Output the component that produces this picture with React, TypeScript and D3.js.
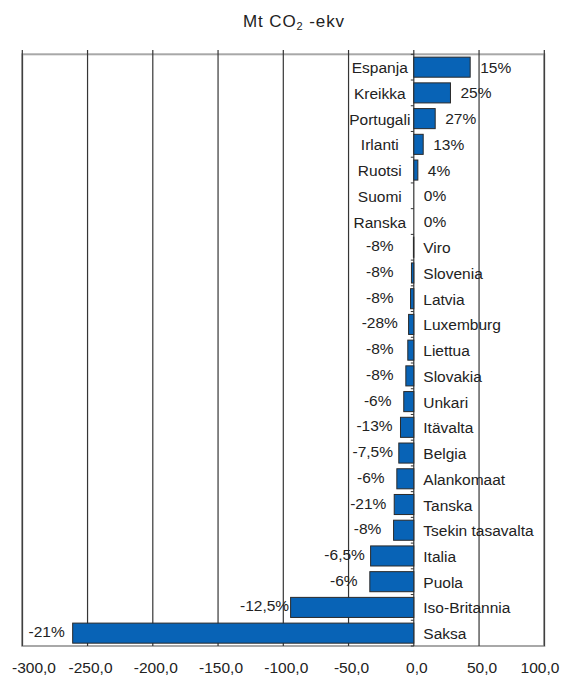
import React from "react";
import * as d3 from "d3";

const categories = ["Espanja","Kreikka","Portugali","Irlanti","Ruotsi","Suomi","Ranska","Viro","Slovenia","Latvia","Luxemburg","Liettua","Slovakia","Unkari","Itävalta","Belgia","Alankomaat","Tanska","Tsekin tasavalta","Italia","Puola","Iso-Britannia","Saksa"];
const values = [43.2, 28.1, 16.4, 7.2, 3.1, 0, 0, -0.3, -1.8, -2.5, -4.0, -4.6, -6.1, -7.7, -10.2, -11.5, -13.0, -15.0, -15.5, -33.1, -33.7, -94.4, -261.4];
const percentLabels = ["15%","25%","27%","13%","4%","0%","0%","-8%","-8%","-8%","-28%","-8%","-8%","-6%","-13%","-7,5%","-6%","-21%","-8%","-6,5%","-6%","-12,5%","-21%"];
const xTicks = [-300, -250, -200, -150, -100, -50, 0, 50, 100];

const W = 569, H = 675;
const FONT = "'Liberation Sans', Arial, sans-serif";
const FS = 15.5;

export default function App() {
  const x = d3.scaleLinear().domain([-300, 100]).range([22.3, 544.3]);
  const y = d3.scaleBand<string>().domain(categories).range([54.3, 646]).paddingInner(0.22).paddingOuter(0.11);
  const step = y.step();
  const top = 54.3, bottom = 646;
  const fmt = (v: number) => d3.format(".1f")(v).replace(".", ",").replace("−", "-");
  const x0 = x(0);

  return (
    <svg width={W} height={H} style={{ position: "absolute", left: 0, top: 0, background: "#fff" }} fontFamily={FONT}>
      {/* title */}
      <text x={294} y={27} textAnchor="middle" fontSize={17} letterSpacing={0.9} fill="#222">
        Mt CO<tspan fontSize={11} dy={3}>2</tspan><tspan dy={-3}> -ekv</tspan>
      </text>
      {/* plot border */}
      <rect x={x(-300)} y={top} width={x(100) - x(-300)} height={bottom - top} fill="none" stroke="#a8a8a8" strokeWidth={2} />
      {/* gridlines */}
      {xTicks.map(t => (
        <line key={"g" + t} x1={x(t)} x2={x(t)} y1={50} y2={bottom} stroke="#353535" strokeWidth={1.2} />
      ))}
      {/* bars */}
      {categories.map((c, i) => {
        const v = values[i];
        const bx = Math.min(x(v), x0);
        const bw = Math.abs(x(v) - x0);
        if (bw <= 0) return null;
        return (
          <rect key={"b" + c} x={bx} y={y(c)} width={bw} height={y.bandwidth()} fill="#0863b6" stroke="#2a2a2a" strokeWidth={1} />
        );
      })}
      {/* category ticks on zero axis */}
      {d3.range(categories.length + 1).map(i => (
        <line key={"ct" + i} x1={x0 - 3} x2={x0} y1={top + i * step} y2={top + i * step} stroke="#333" strokeWidth={1} />
      ))}
      {/* category labels */}
      {categories.map((c, i) => {
        const v = values[i];
        const cy = (y(c) as number) + y.bandwidth() / 2;
        const neg = v < 0;
        return (
          <text key={"c" + c} x={neg ? x0 + 9.5 : x0 - 34} y={cy + 6} textAnchor={neg ? "start" : "middle"} fontSize={FS} fill="#222">
            {c}
          </text>
        );
      })}
      {/* percent labels */}
      {categories.map((c, i) => {
        const v = values[i];
        const cy = (y(c) as number) + y.bandwidth() / 2;
        const neg = v < 0;
        const lx = neg ? Math.min(x(v) - 26, x0 - 34) : Math.max(x(v) + 10, x0 + 7);
        return (
          <text key={"p" + c} x={lx} y={cy + (neg ? 4 : 5.5)} textAnchor={neg ? "middle" : "start"} fontSize={FS} fill="#222">
            {percentLabels[i]}
          </text>
        );
      })}
      {/* x tick labels */}
      {xTicks.map(t => (
        <text key={"t" + t} x={Math.max(34, Math.min(540, x(t) + 3))} y={673} textAnchor="middle" fontSize={FS} fill="#222">
          {fmt(t)}
        </text>
      ))}
    </svg>
  );
}
